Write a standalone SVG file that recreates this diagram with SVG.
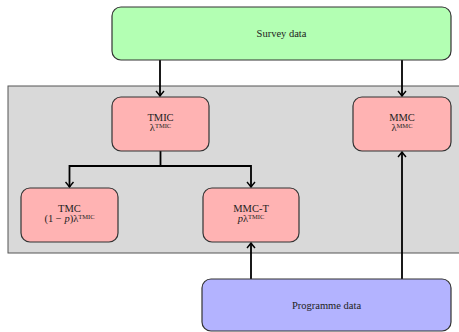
<svg xmlns="http://www.w3.org/2000/svg" width="459" height="332" viewBox="0 0 459 332">
<style>
.box{stroke:#333;stroke-width:1.2}
.g{fill:#b3ffb3}.r{fill:#ffb3b3}.b{fill:#b3b3ff}
text{font-family:"Liberation Serif","Times New Roman",serif;font-size:10.5px;fill:#222;text-anchor:middle}
.sup{font-size:6.5px}
.c{fill:none;stroke:#000;stroke-width:1.8}
</style>
<defs>
<marker id="ah" viewBox="-6 -5 7 10" refX="0" refY="0" markerWidth="7" markerHeight="10" markerUnits="userSpaceOnUse" orient="auto">
<path d="M-5,-4 Q-1.5,-1 0,0 Q-1.5,1 -5,4" fill="none" stroke="#000" stroke-width="1.4"/>
</marker>
</defs>
<rect x="8" y="86" width="460" height="167" fill="#d9d9d9" stroke="#555" stroke-width="1"/>
<g id="connectors">
<path class="c" d="M160,60 V96" marker-end="url(#ah)"/>
<path class="c" d="M402,60 V96" marker-end="url(#ah)"/>
<path class="c" d="M160.5,151 V166 H69.5 V187" marker-end="url(#ah)"/>
<path class="c" d="M160.5,166 H251 V187" marker-end="url(#ah)"/>
<path class="c" d="M251,279 V243" marker-end="url(#ah)"/>
<path class="c" d="M402,279 V152" marker-end="url(#ah)"/>
</g>
<g id="survey"><rect class="box g" x="112" y="7" width="339" height="53" rx="9"/><text x="281.5" y="37">Survey data</text></g>
<g id="tmic"><rect class="box r" x="112" y="97" width="97" height="54" rx="9"/><text x="160.5" y="121">TMIC</text><text x="160.5" y="131">λ<tspan class="sup" dy="-3.5">TMIC</tspan></text></g>
<g id="mmc"><rect class="box r" x="353" y="97" width="98" height="54" rx="9"/><text x="402" y="121">MMC</text><text x="402" y="131">λ<tspan class="sup" dy="-3.5">MMC</tspan></text></g>
<g id="tmc"><rect class="box r" x="21" y="188" width="97" height="54" rx="9"/><text x="69.5" y="212">TMC</text><text x="69.5" y="222">(1 − <tspan font-style="italic">p</tspan>)λ<tspan class="sup" dy="-3.5">TMIC</tspan></text></g>
<g id="mmct"><rect class="box r" x="203" y="188" width="96" height="54" rx="9"/><text x="251" y="212">MMC-T</text><text x="251" y="222"><tspan font-style="italic">p</tspan>λ<tspan class="sup" dy="-3.5">TMIC</tspan></text></g>
<g id="programme"><rect class="box b" x="202" y="279" width="249" height="52" rx="9"/><text x="326.5" y="309">Programme data</text></g>
</svg>
